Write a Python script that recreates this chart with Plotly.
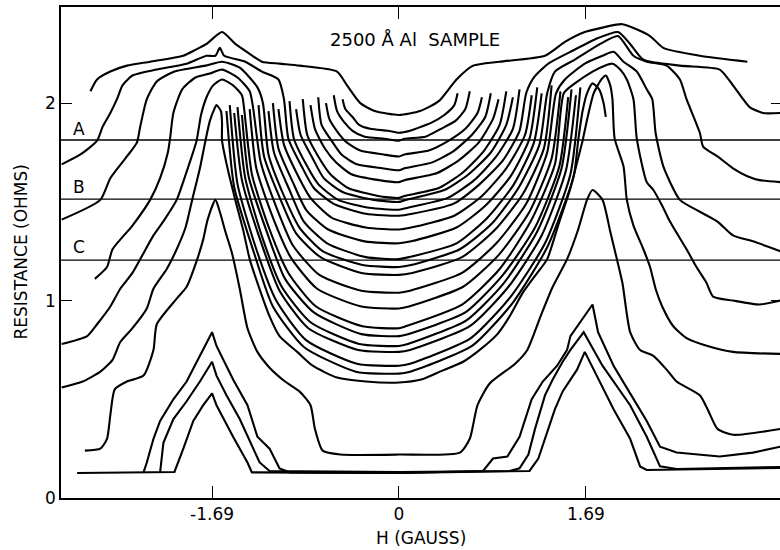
import plotly.graph_objects as go

# ---- axis / labels ----
H_RANGE = [-3.056, 3.445]
R_RANGE = [0.0, 2.487]
x_ticks = [-1.69, 0, 1.69]
x_tick_text = ["-1.69", "0", "1.69"]
y_ticks = [0, 1, 2]
y_tick_text = ["0", "1", "2"]
right_ticks = [1, 2]
ref_levels = [1.813, 1.514, 1.205]
ref_names = ["A", "B", "C"]
ref_label_H = -2.89
ref_label_R = [1.87, 1.575, 1.27]

# ---- curves: (H gauss, R ohms) ----
T1 = [(-2.79,2.06),(-2.73,2.12),(-2.61,2.16),(-2.46,2.19),(-2.25,2.21),(-1.95,2.24),(-1.84,2.27),
      (-1.74,2.30),(-1.60,2.36),(-1.48,2.30),(-1.35,2.25),(-1.24,2.21),(-1.08,2.20),(-0.90,2.19),
      (-0.56,2.16),(-0.47,2.09),(-0.35,2.00),(-0.22,1.96),(0.00,1.94),(0.19,1.96),(0.36,2.01),
      (0.52,2.12),(0.67,2.19),(0.91,2.21),(1.32,2.24),(1.50,2.31),(1.68,2.36),(1.82,2.38),
      (2.02,2.40),(2.27,2.34),(2.39,2.28),(2.72,2.24),(3.15,2.21)]

B_L = [(-3.05,1.69),(-2.88,1.74),(-2.73,1.81),(-2.68,1.88),(-2.61,1.95),(-2.55,2.02),(-2.50,2.09),
       (-2.41,2.14),(-2.19,2.17),(-1.92,2.20),(-1.74,2.24),(-1.66,2.24),(-1.62,2.28),(-1.58,2.24),
       (-1.39,2.21),(-1.24,2.16),(-1.09,2.12),(-1.04,2.02)]
B_R = [(1.22,2.13),(1.35,2.20),(1.55,2.26),(1.80,2.33),(1.98,2.36),(2.09,2.30),(2.21,2.22),
       (2.54,2.19),(2.90,2.17),(3.02,2.09),(3.17,1.98),(3.29,1.95),(3.45,1.95)]

G_L = [(-3.05,1.41),(-2.70,1.51),(-2.61,1.62),(-2.46,1.73),(-2.37,1.80),(-2.34,1.88),(-2.28,2.02),
       (-2.19,2.11),(-2.03,2.16),(-1.75,2.19),(-1.60,2.21),(-1.44,2.18),(-1.28,2.08),(-1.23,2.00)]
G_R = [(1.41,2.16),(1.59,2.22),(1.82,2.30),(1.98,2.34),(2.12,2.24),(2.24,2.21),(2.42,2.19),
       (2.54,2.12),(2.60,2.02),(2.72,1.85),(2.75,1.78),(2.88,1.73),(3.02,1.67),(3.15,1.63),
       (3.26,1.61),(3.45,1.60)]

D_L = [(-2.75,1.11),(-2.64,1.17),(-2.59,1.26),(-2.41,1.38),(-2.25,1.51),(-2.16,1.62),(-2.09,1.75),
       (-2.07,1.82),(-2.04,1.95),(-1.96,2.07),(-1.84,2.13),(-1.71,2.15),(-1.60,2.17),(-1.46,2.13),
       (-1.35,2.06),(-1.32,1.98)]
D_R = [(1.50,2.12),(1.68,2.20),(1.84,2.24),(1.94,2.26),(2.03,2.21),(2.15,2.16),(2.24,2.07),
       (2.29,2.02),(2.32,1.85),(2.39,1.68),(2.54,1.51),(2.72,1.45),(2.88,1.40),(3.02,1.33),
       (3.20,1.30),(3.45,1.25)]

O4_L = [(-3.05,0.78),(-2.82,0.82),(-2.73,0.88),(-2.61,0.97),(-2.52,1.06),(-2.41,1.14),(-2.32,1.23),
        (-2.22,1.33),(-2.12,1.41),(-2.01,1.51),(-1.91,1.67),(-1.83,1.81),(-1.79,1.94),(-1.74,2.03),
        (-1.68,2.09),(-1.60,2.12),(-1.50,2.09),(-1.42,2.04),(-1.40,1.97)]
O4_R = [(1.59,2.10),(1.75,2.16),(1.86,2.19),(1.93,2.20),(2.00,2.17),(2.06,2.12),(2.12,2.02),
        (2.15,1.82),(2.24,1.60),(2.30,1.56),(2.38,1.48),(2.45,1.40),(2.60,1.26),(2.69,1.17),
        (2.78,1.09),(2.84,1.02),(3.02,1.00),(3.26,0.98),(3.45,1.00)]

O5_L = [(-3.05,0.56),(-2.86,0.59),(-2.70,0.64),(-2.59,0.70),(-2.52,0.79),(-2.41,0.86),(-2.28,0.96),
        (-2.22,1.06),(-2.10,1.16),(-2.01,1.26),(-1.93,1.37),(-1.87,1.51),(-1.80,1.67),(-1.75,1.81),
        (-1.71,1.91),(-1.67,1.97),(-1.65,1.99),(-1.61,1.96)]
O5_R = [(1.71,1.94),(1.76,2.05),(1.83,2.12),(1.87,2.14),(1.91,2.09),(1.93,2.02),(1.95,1.82),
        (2.03,1.68),(2.06,1.51),(2.12,1.38),(2.21,1.26),(2.27,1.17),(2.32,1.06),(2.38,0.97),
        (2.48,0.87),(2.60,0.81),(2.79,0.77),(3.02,0.74),(3.45,0.73)]

U01 = [(-1.60,1.90),(-1.60,1.81),(-1.55,1.67),(-1.48,1.51),(-1.41,1.36),(-1.35,1.21),(-1.28,1.09),
       (-1.17,0.92),(-1.08,0.82),(-0.92,0.74),(-0.78,0.67),(-0.56,0.61),(-0.30,0.59),(0.00,0.585),
       (0.20,0.60),(0.37,0.64),(0.58,0.69),(0.73,0.75),(0.89,0.83),(1.00,0.92),(1.12,1.04),
       (1.25,1.14),(1.34,1.21),(1.45,1.40),(1.54,1.55),(1.61,1.70),(1.66,1.81)]
U02 = [(-1.56,1.96),(-1.49,1.575),(-1.31,1.24),(-1.14,0.97),(-0.86,0.765),(-0.39,0.64),(0.00,0.63),
       (0.10,0.64),(0.66,0.77),(1.03,0.99),(1.34,1.27),(1.58,1.63),(1.62,1.81),(1.66,1.96),
       (1.70,2.05),(1.75,2.10),(1.81,2.07),(1.85,2.00),(1.87,1.93)]
U03 = [(-1.53,1.99),(-1.46,1.59),(-1.29,1.26),(-1.11,1.00),(-0.84,0.80),(-0.38,0.68),(0.00,0.67),
       (0.10,0.68),(0.65,0.81),(1.01,1.02),(1.32,1.29),(1.55,1.64),(1.64,2.08)]
U04 = [(-1.49,1.95),(-1.42,1.61),(-1.25,1.30),(-1.08,1.05),(-0.82,0.86),(-0.37,0.75),(0.00,0.74),
       (0.10,0.75),(0.64,0.87),(0.99,1.07),(1.29,1.33),(1.51,1.66),(1.60,2.04)]
U05 = [(-1.46,1.98),(-1.39,1.62),(-1.23,1.31),(-1.06,1.07),(-0.80,0.89),(-0.36,0.78),(0.00,0.77),
       (0.08,0.78),(0.61,0.90),(0.95,1.09),(1.25,1.35),(1.47,1.67),(1.56,2.07)]
U06 = [(-1.42,1.94),(-1.36,1.63),(-1.19,1.34),(-1.03,1.11),(-0.77,0.94),(-0.34,0.83),(0.00,0.82),
       (0.08,0.83),(0.60,0.94),(0.94,1.13),(1.23,1.37),(1.45,1.68),(1.53,2.03)]
U07 = [(-1.33,1.64),(-1.17,1.36),(-1.00,1.14),(-0.75,0.97),(-0.33,0.87),(0.00,0.86),(0.06,0.87),
       (0.57,0.98),(0.91,1.16),(1.19,1.40),(1.41,1.69),(1.49,2.05)]
U08 = [(-1.35,1.97),(-1.29,1.67),(-1.14,1.42),(-0.98,1.22),(-0.74,1.06),(-0.34,0.97),(0.00,0.96),
       (0.09,0.97),(0.58,1.07),(0.90,1.23),(1.18,1.45),(1.38,1.72),(1.46,2.06)]
U09 = [(-1.25,1.70),(-1.10,1.46),(-0.96,1.28),(-0.72,1.13),(-0.34,1.05),(0.00,1.04),(0.10,1.05),
       (0.57,1.14),(0.88,1.29),(1.15,1.49),(1.34,1.75),(1.42,2.05)]
U10 = [(-1.27,1.99),(-1.22,1.73),(-1.07,1.51),(-0.93,1.34),(-0.71,1.22),(-0.34,1.14),(0.00,1.13),
       (0.12,1.14),(0.57,1.22),(0.87,1.36),(1.12,1.54),(1.31,1.77),(1.38,2.09)]
U11 = [(-1.18,1.74),(-1.04,1.53),(-0.90,1.37),(-0.69,1.25),(-0.33,1.18),(0.00,1.17),(0.11,1.18),
       (0.55,1.26),(0.84,1.39),(1.08,1.57),(1.27,1.79),(1.34,2.05)]
U12 = [(-1.18,1.96),(-1.13,1.75),(-0.99,1.56),(-0.86,1.40),(-0.65,1.29),(-0.30,1.22),(0.00,1.21),
       (0.09,1.22),(0.52,1.29),(0.80,1.42),(1.04,1.59),(1.22,1.80),(1.29,2.05)]
U13 = [(-1.14,2.00),(-1.09,1.77),(-0.96,1.60),(-0.84,1.46),(-0.64,1.36),(-0.31,1.30),(0.00,1.29),
       (0.11,1.30),(0.52,1.37),(0.78,1.48),(1.01,1.63),(1.18,1.82),(1.25,2.08)]
U14 = [(-1.09,1.97),(-1.04,1.79),(-0.92,1.64),(-0.80,1.52),(-0.61,1.42),(-0.30,1.37),(0.00,1.36),
       (0.11,1.37),(0.50,1.43),(0.75,1.53),(0.97,1.67),(1.14,1.84),(1.20,2.04)]
U15 = [(-1.00,1.82),(-0.88,1.68),(-0.77,1.57),(-0.59,1.49),(-0.30,1.44),(0.00,1.43),(0.12,1.44),
       (0.49,1.49),(0.73,1.59),(0.94,1.71),(1.09,1.86),(1.15,2.05)]
U16 = [(-0.99,2.01),(-0.95,1.82),(-0.84,1.69),(-0.73,1.59),(-0.55,1.51),(-0.27,1.47),(0.00,1.46),
       (0.08,1.47),(0.44,1.52),(0.68,1.61),(0.88,1.73),(1.03,1.87),(1.09,2.07)]
U17 = [(-0.93,1.97),(-0.89,1.84),(-0.78,1.72),(-0.68,1.62),(-0.51,1.55),(-0.23,1.51),(0.00,1.50),
       (0.06,1.51),(0.41,1.56),(0.63,1.64),(0.83,1.75),(0.97,1.89),(1.03,2.03)]
U18 = [(-0.87,2.02),(-0.83,1.84),(-0.73,1.73),(-0.62,1.64),(-0.46,1.57),(-0.19,1.53),(0.00,1.52),
       (0.05,1.53),(0.36,1.57),(0.58,1.65),(0.77,1.76),(0.91,1.89),(0.97,2.06)]
U19 = [(-0.80,1.99),(-0.76,1.87),(-0.67,1.77),(-0.57,1.70),(-0.43,1.64),(-0.18,1.61),(0.00,1.60),
       (0.05,1.61),(0.34,1.645),(0.54,1.71),(0.72,1.80),(0.85,1.92),(0.90,2.02)]
U20 = [(-0.73,2.03),(-0.70,1.89),(-0.61,1.81),(-0.52,1.74),(-0.38,1.69),(-0.15,1.67),(0.00,1.66),
       (0.05,1.67),(0.30,1.70),(0.50,1.76),(0.66,1.84),(0.78,1.93),(0.83,2.05)]
U21 = [(-0.66,2.00),(-0.63,1.92),(-0.55,1.85),(-0.47,1.80),(-0.35,1.76),(-0.14,1.74),(0.00,1.73),
       (0.05,1.74),(0.27,1.76),(0.45,1.81),(0.60,1.87),(0.71,1.95),(0.75,2.03)]
U22 = [(-0.59,2.04),(-0.56,1.96),(-0.49,1.90),(-0.42,1.86),(-0.31,1.83),(-0.13,1.82),(0.00,1.81),
       (0.05,1.82),(0.24,1.83),(0.38,1.87),(0.51,1.91),(0.60,1.97),(0.64,2.06)]
U23 = [(-0.51,2.02),(-0.485,1.97),(-0.42,1.93),(-0.36,1.89),(-0.26,1.87),(-0.10,1.86),(0.00,1.85),
       (0.10,1.86),(0.15,1.87),(0.29,1.90),(0.41,1.94),(0.50,1.99),(0.53,2.05)]

BATH = [(-2.84,0.24),(-2.70,0.25),(-2.64,0.30),(-2.61,0.42),(-2.57,0.55),(-2.46,0.59),(-2.31,0.62),
        (-2.22,0.75),(-2.19,0.88),(-2.01,1.01),(-1.92,1.07),(-1.83,1.20),(-1.77,1.31),(-1.73,1.41),
        (-1.66,1.51),(-1.62,1.45),(-1.57,1.35),(-1.51,1.24),(-1.44,1.06),(-1.37,0.86),(-1.28,0.74),
        (-1.17,0.66),(-1.03,0.59),(-0.90,0.54),(-0.80,0.47),(-0.76,0.35),(-0.69,0.24),(-0.53,0.22),
        (0.00,0.22),(0.55,0.23),(0.64,0.30),(0.71,0.47),(0.82,0.58),(1.05,0.68),(1.16,0.75),
        (1.28,0.92),(1.39,1.07),(1.52,1.21),(1.62,1.36),(1.70,1.51),(1.75,1.56),(1.84,1.51),
        (1.91,1.35),(1.97,1.21),(2.02,1.09),(2.09,0.84),(2.18,0.75),(2.30,0.72),(2.42,0.65),
        (2.51,0.59),(2.72,0.52),(2.79,0.45),(2.88,0.35),(3.02,0.32),(3.45,0.35)]

K1 = [(-2.31,0.13),(-2.28,0.18),(-2.22,0.30),(-2.16,0.39),(-2.04,0.50),(-1.92,0.59),(-1.80,0.72),
      (-1.69,0.84),(-1.65,0.77),(-1.50,0.60),(-1.37,0.47),(-1.28,0.31),(-1.17,0.25),(-1.08,0.15),
      (-0.99,0.13),(0.00,0.127),(0.76,0.137),(0.85,0.20),(0.98,0.21),(1.09,0.31),(1.20,0.50),
      (1.30,0.59),(1.43,0.67),(1.52,0.75),(1.55,0.82),(1.66,0.91),(1.75,0.98),(1.80,0.84),
      (1.94,0.67),(2.09,0.53),(2.24,0.39),(2.36,0.26),(2.51,0.23),(2.90,0.21),(3.20,0.23),(3.45,0.26)]
K2 = [(-2.16,0.13),(-2.13,0.28),(-2.04,0.40),(-1.92,0.49),(-1.80,0.59),(-1.69,0.69),(-1.65,0.62),
      (-1.56,0.52),(-1.44,0.40),(-1.32,0.25),(-1.26,0.18),(-1.17,0.137),(0.00,0.132),(1.00,0.137),
      (1.09,0.15),(1.17,0.22),(1.23,0.35),(1.32,0.52),(1.39,0.60),(1.48,0.69),(1.55,0.75),
      (1.67,0.84),(1.73,0.78),(1.84,0.67),(2.09,0.47),(2.24,0.31),(2.36,0.16),(2.51,0.147),(3.45,0.157)]
K3 = [(-2.91,0.127),(-2.03,0.132),(-1.95,0.25),(-1.86,0.39),(-1.77,0.47),(-1.69,0.53),(-1.65,0.47),
      (-1.50,0.31),(-1.37,0.18),(-1.33,0.13),(0.00,0.127),(1.18,0.137),(1.26,0.20),(1.35,0.35),
      (1.41,0.45),(1.48,0.54),(1.61,0.65),(1.68,0.74),(1.79,0.62),(1.94,0.45),(2.09,0.30),
      (2.18,0.16),(2.24,0.142),(3.45,0.152)]

smooth_curves = [T1, O5_L + U01 + O5_R, O4_L + U07 + O4_R, D_L + U09 + D_R, G_L + U11 + G_R,
                 B_L + U15 + B_R, U02, U03, U04, U05, U06, U08, U10, U12, U13, U14, U16, U17,
                 U18, U19, U20, U21, U22, U23, BATH]
sharp_curves = [K1, K2, K3]

fig = go.Figure()
for pts in smooth_curves:
    h, r = zip(*pts)
    fig.add_trace(go.Scatter(x=h, y=r, mode="lines", hoverinfo="skip", showlegend=False,
                             line=dict(color="black", width=2.1, shape="spline", smoothing=0.6)))
for pts in sharp_curves:
    h, r = zip(*pts)
    fig.add_trace(go.Scatter(x=h, y=r, mode="lines", hoverinfo="skip", showlegend=False,
                             line=dict(color="black", width=2.1)))
# helper trace so the right-hand (mirror) tick axis is drawn
fig.add_trace(go.Scatter(x=[H_RANGE[0]], y=[right_ticks[0]], yaxis="y2", mode="lines",
                         showlegend=False, hoverinfo="skip", line=dict(color="rgba(0,0,0,0)")))

for lev in ref_levels:
    fig.add_hline(y=lev, line=dict(color="black", width=1.4))

FONT = "DejaVu Sans"
for name, ry in zip(ref_names, ref_label_R):
    fig.add_annotation(x=ref_label_H, y=ry, text=name, showarrow=False,
                       font=dict(family=FONT, size=17, color="black"))
fig.add_annotation(x=0.145, y=2.32, text="2500 Å Al&nbsp;&nbsp;SAMPLE", showarrow=False,
                   font=dict(family=FONT, size=18, color="black"))
fig.add_annotation(xref="paper", yref="paper", x=0.5, y=-0.082, text="H (GAUSS)", showarrow=False,
                   yanchor="middle", font=dict(family=FONT, size=17, color="black"))
fig.add_annotation(xref="paper", yref="paper", x=-0.057, y=0.5, text="RESISTANCE (OHMS)",
                   textangle=-90, showarrow=False, xanchor="center",
                   font=dict(family=FONT, size=17, color="black"))

fig.update_layout(
    width=780, height=550, margin=dict(l=61, r=0, t=7, b=52),
    paper_bgcolor="white", plot_bgcolor="white",
    font=dict(family=FONT, color="black"),
    xaxis=dict(range=H_RANGE, showgrid=False, zeroline=False, showline=True, linecolor="black",
               linewidth=1.5, mirror="ticks", ticks="inside", ticklen=12, tickwidth=1.4,
               tickcolor="black", tickvals=x_ticks, ticktext=x_tick_text,
               tickfont=dict(family=FONT, size=17, color="black")),
    yaxis=dict(range=R_RANGE, showgrid=False, zeroline=False, showline=True, linecolor="black",
               linewidth=1.5, ticks="inside", ticklen=11, tickwidth=1.4, tickcolor="black",
               tickvals=y_ticks, ticktext=y_tick_text,
               tickfont=dict(family=FONT, size=17, color="black")),
    yaxis2=dict(range=R_RANGE, overlaying="y", side="right", showgrid=False, zeroline=False,
                showline=False, ticks="inside", ticklen=9, tickwidth=1.4, tickcolor="black",
                tickvals=right_ticks, showticklabels=False),
)
fig.write_html("out.html")
